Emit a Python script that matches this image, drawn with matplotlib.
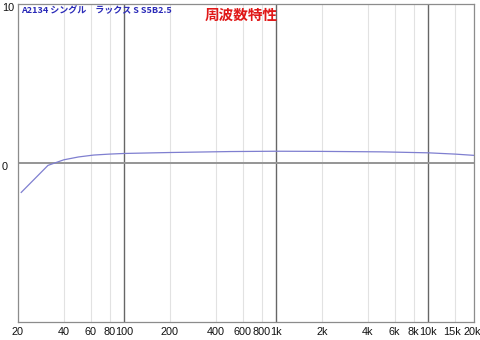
import matplotlib
matplotlib.use("Agg")
import matplotlib.pyplot as plt
import matplotlib.transforms as mtransforms
from matplotlib.ticker import FixedLocator, NullLocator

freqs = [21, 31.5, 40, 50, 63, 80, 100, 200, 500, 1000, 2000, 5000, 10000, 15000, 20000]
levels = [-1.85, -0.15, 0.2, 0.38, 0.5, 0.56, 0.6, 0.66, 0.72, 0.74, 0.73, 0.7, 0.64, 0.56, 0.48]

xtick_vals = [20, 40, 60, 80, 100, 200, 400, 600, 800, 1000, 2000, 4000, 6000, 8000, 10000, 15000, 20000]
xtick_labels = ["20", "40", "60", "80", "100", "200", "400", "600", "800", "1k", "2k", "4k", "6k", "8k", "10k", "15k", "20k"]
major_lines = [100, 1000, 10000]
ytick_vals = [0, 10]
ytick_labels = ["0", "10"]

label_text = "A2134 シングル　ラックス S S5B2.5"
title_text = "周波数特性"

plt.rcParams['font.family'] = ['Liberation Sans', 'Noto Sans CJK JP', 'DejaVu Sans']

fig = plt.figure(figsize=(4.8, 3.4), dpi=100)
ax = fig.add_axes([18/480, 1-322/340, 456/480, 318/340])
ax.set_xscale('log')
ax.set_xlim(20, 20000)
ax.set_ylim(-10, 10)

for v in xtick_vals:
    if v in major_lines:
        ax.axvline(v, color='#666666', lw=1.0, zorder=1)
    else:
        ax.axvline(v, color='#e2e2e2', lw=0.8, zorder=0)
ax.axhline(0, color='#959595', lw=1.4, zorder=1)

ax.plot(freqs, levels, color='#7f7fd0', lw=0.9, zorder=3)

ax.xaxis.set_major_locator(FixedLocator(xtick_vals))
ax.xaxis.set_minor_locator(NullLocator())
ax.set_xticklabels(xtick_labels, fontsize=7.8, color='#111111')
ax.yaxis.set_major_locator(FixedLocator(ytick_vals))
ax.yaxis.set_minor_locator(NullLocator())
ax.set_yticklabels(ytick_labels, fontsize=7.8, color='#111111')
ax.tick_params(axis='both', length=0)
ax.tick_params(axis='x', pad=3.5)
ax.tick_params(axis='y', pad=11.5)

down = mtransforms.ScaledTranslation(0, -3/100, fig.dpi_scale_trans)
for lbl in ax.get_yticklabels():
    lbl.set_ha('left')
    lbl.set_transform(lbl.get_transform() + down)
xl = ax.get_xticklabels()
xl[-1].set_transform(xl[-1].get_transform() + mtransforms.ScaledTranslation(-1.5/100, 0, fig.dpi_scale_trans))
xl[-2].set_transform(xl[-2].get_transform() + mtransforms.ScaledTranslation(-2.5/100, 0, fig.dpi_scale_trans))

for s in ax.spines.values():
    s.set_color('#8c8c8c')
    s.set_linewidth(0.9)

ax.text(0.007, 0.978, label_text, transform=ax.transAxes, ha='left', va='center',
        fontsize=6.5, color='#2a2ab8', fontweight='bold',
        family=['Noto Sans CJK JP', 'DejaVu Sans'])
ax.text(0.49, 0.965, title_text, transform=ax.transAxes, ha='center', va='center',
        fontsize=10.5, color='#e01818', fontweight='bold',
        family=['Noto Sans CJK JP', 'DejaVu Sans'])

fig.savefig("out.png", dpi=100)
